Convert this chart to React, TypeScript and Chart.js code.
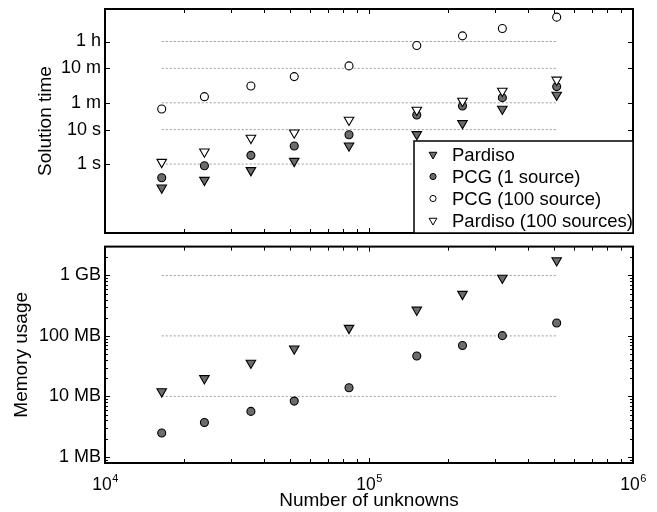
import React, { useEffect, useRef } from 'react';
import { Chart, registerables } from 'chart.js';

Chart.register(...registerables);

const FONT = "'Liberation Sans', Arial, Helvetica, sans-serif";
Chart.defaults.font.family = FONT;
Chart.defaults.color = '#000';

// ---- data ----
const nUnknowns = [16400, 23800, 35700, 52100, 84000, 151700, 226000, 320000, 514000];
const timePardiso = [0.205, 0.343, 0.656, 1.22, 3.4, 7.3, 15.2, 39.7, 101];
const timePCG1 = [0.4, 0.89, 1.79, 3.34, 7.1, 26.6, 48.5, 84.6, 177];
const timePCG100 = [39.7, 90.4, 185, 345, 706, 2750, 5260, 8570, 18370];
const timePardiso100 = [1.14, 2.28, 5.7, 8.1, 19, 37, 68, 132, 277];
const memPardiso = [12.0, 19.8, 35.7, 61.3, 134.5, 269, 491, 908, 1770];
const memPCG = [2.47, 3.69, 5.64, 8.35, 13.9, 46.4, 69.5, 101, 163];

const timeTicks = [1, 10, 60, 600, 3600];
const timeTickLabels = ['1 s', '10 s', '1 m', '10 m', '1 h'];
const timeGridValues = [1, 10, 60, 600, 3600];
const memTicks = [1, 10, 100, 1000];
const memTickLabels = ['1 MB', '10 MB', '100 MB', '1 GB'];
const memGridValues = [10, 100, 1000];
const xTicks = [1e4, 1e5, 1e6];
const xTickExponents = ['4', '5', '6'];
const legendLabels = ['Pardiso', 'PCG (1 source)', 'PCG (100 source)', 'Pardiso (100 sources)'];

const GRAY = 'rgb(108,108,108)';

type Marker = { shape: 'tri' | 'circle'; fill: string };
const legendMarkers: Marker[] = [
  { shape: 'tri', fill: GRAY },
  { shape: 'circle', fill: GRAY },
  { shape: 'circle', fill: '#fff' },
  { shape: 'tri', fill: '#fff' },
];

const pts = (ys: number[]) => nUnknowns.map((x, i) => ({ x, y: ys[i] }));

const markerDs = (label: string, ys: number[], m: Marker, order: number) => ({
  label,
  data: pts(ys),
  showLine: false,
  pointStyle: m.shape === 'tri' ? 'triangle' : 'circle',
  pointRotation: m.shape === 'tri' ? 180 : 0,
  pointRadius: m.shape === 'tri' ? 5.5 : 4,
  pointBackgroundColor: m.fill,
  pointBorderColor: '#000',
  pointBorderWidth: 1.1,
  order,
});

const gridDs = (v: number) => ({
  label: 'grid',
  data: [
    { x: nUnknowns[0], y: v },
    { x: nUnknowns[nUnknowns.length - 1], y: v },
  ],
  showLine: true,
  borderColor: 'rgb(155,155,155)',
  borderWidth: 1,
  borderDash: [2, 2],
  pointRadius: 0,
  order: 10,
});

function drawMarker(ctx: CanvasRenderingContext2D, m: Marker, x: number, y: number, r: number) {
  ctx.beginPath();
  if (m.shape === 'tri') {
    ctx.moveTo(x, y + r);
    ctx.lineTo(x - r * 0.866, y - r / 2);
    ctx.lineTo(x + r * 0.866, y - r / 2);
    ctx.closePath();
  } else {
    ctx.arc(x, y, r, 0, Math.PI * 2);
  }
  ctx.fillStyle = m.fill;
  ctx.fill();
  ctx.lineWidth = 1;
  ctx.strokeStyle = '#000';
  ctx.stroke();
}

function minorLogValues(min: number, max: number) {
  const out: number[] = [];
  for (let e = Math.floor(Math.log10(min)); e <= Math.ceil(Math.log10(max)); e++) {
    for (let k = 2; k <= 9; k++) {
      const v = k * Math.pow(10, e);
      if (v > min && v < max) out.push(v);
    }
  }
  return out;
}

const zeroPad = (s: any) => {
  s.paddingTop = 0;
  s.paddingBottom = 0;
  s.paddingLeft = 0;
  s.paddingRight = 0;
};

const makeAxesPlugin = (cfg: { yMajor: number[]; yMinor: boolean; xLabels: boolean; legend: boolean }) => ({
  id: 'matlabAxes',
  afterDraw(chart: any) {
    const { ctx, chartArea: a, scales } = chart;
    const xs = scales.x;
    const ys = scales.y;
    ctx.save();
    ctx.strokeStyle = '#000';
    ctx.lineWidth = 1;
    ctx.beginPath();
    const seg = (x1: number, y1: number, x2: number, y2: number) => {
      ctx.moveTo(x1, y1);
      ctx.lineTo(x2, y2);
    };
    const MAJ = 5;
    const MIN = 3;
    for (const v of xTicks) {
      const px = Math.round(xs.getPixelForValue(v)) + 0.5;
      seg(px, a.top, px, a.top + MAJ);
      seg(px, a.bottom, px, a.bottom - MAJ);
    }
    for (const v of minorLogValues(xs.min, xs.max)) {
      const px = Math.round(xs.getPixelForValue(v)) + 0.5;
      seg(px, a.top, px, a.top + MIN + 1);
      seg(px, a.bottom, px, a.bottom - MIN - 1);
    }
    for (const v of cfg.yMajor) {
      const py = Math.round(ys.getPixelForValue(v)) + 0.5;
      seg(a.left, py, a.left + MAJ, py);
      seg(a.right, py, a.right - MAJ, py);
    }
    if (cfg.yMinor) {
      for (const v of minorLogValues(ys.min, ys.max)) {
        const py = Math.round(ys.getPixelForValue(v)) + 0.5;
        seg(a.left, py, a.left + MIN, py);
        seg(a.right, py, a.right - MIN, py);
      }
    }
    ctx.stroke();

    ctx.lineWidth = 2;
    ctx.strokeRect(a.left, a.top, a.right - a.left, a.bottom - a.top);

    if (cfg.xLabels) {
      ctx.fillStyle = '#000';
      ctx.textAlign = 'left';
      ctx.textBaseline = 'alphabetic';
      xTicks.forEach((v, i) => {
        const px = xs.getPixelForValue(v);
        ctx.font = `17.5px ${FONT}`;
        const w1 = ctx.measureText('10').width;
        ctx.font = `11px ${FONT}`;
        const w2 = ctx.measureText(xTickExponents[i]).width;
        const x0 = px - (w1 + w2) / 2;
        ctx.font = `17.5px ${FONT}`;
        ctx.fillText('10', x0, a.bottom + 27);
        ctx.font = `11px ${FONT}`;
        ctx.fillText(xTickExponents[i], x0 + w1 + 0.5, a.bottom + 18.5);
      });
    }

    if (cfg.legend) {
      const w = 219;
      const h = 92;
      const lx = a.right - w;
      const ly = a.bottom - h;
      ctx.fillStyle = '#fff';
      ctx.fillRect(lx, ly, w, h);
      ctx.lineWidth = 1.5;
      ctx.strokeStyle = '#000';
      ctx.strokeRect(lx, ly, w, h);
      legendLabels.forEach((label, i) => {
        const cy = ly + 13.5 + i * 22;
        const m = legendMarkers[i];
        drawMarker(ctx, m, lx + 19, cy, m.shape === 'tri' ? 4.5 : 3.1);
        ctx.font = `18.5px ${FONT}`;
        ctx.fillStyle = '#000';
        ctx.textAlign = 'left';
        ctx.textBaseline = 'middle';
        ctx.fillText(label, lx + 38, cy + 1);
      });
    }
    ctx.restore();
  },
});

function TimeChart() {
  const ref = useRef<HTMLCanvasElement>(null);
  useEffect(() => {
    if (!ref.current) return;
    const chart = new Chart(ref.current, {
      type: 'scatter',
      data: {
        datasets: [
          markerDs(legendLabels[0], timePardiso, legendMarkers[0], 3),
          markerDs(legendLabels[1], timePCG1, legendMarkers[1], 2),
          markerDs(legendLabels[2], timePCG100, legendMarkers[2], 1),
          markerDs(legendLabels[3], timePardiso100, legendMarkers[3], 0),
          ...timeGridValues.map(gridDs),
        ] as any,
      },
      options: {
        animation: false,
        responsive: false,
        events: [],
        layout: { padding: { top: 9, right: 24, bottom: 7, left: 0 } },
        plugins: { legend: { display: false }, tooltip: { enabled: false } },
        scales: {
          x: { type: 'logarithmic', min: 1e4, max: 1e6, display: false, afterFit: zeroPad },
          y: {
            type: 'logarithmic',
            min: 0.01,
            max: 31623,
            bounds: 'data',
            afterBuildTicks: (s: any) => {
              s.ticks = timeTicks.map((v) => ({ value: v }));
            },
            afterFit: (s: any) => {
              s.width = 105;
              zeroPad(s);
            },
            grid: { display: false, drawTicks: false },
            border: { display: false },
            ticks: {
              autoSkip: false,
              padding: 4,
              color: '#000',
              font: { size: 18 },
              callback: (v: any) => {
                const i = timeTicks.indexOf(Number(v));
                return i >= 0 ? timeTickLabels[i] : '';
              },
            },
            title: {
              display: true,
              text: 'Solution time',
              color: '#000',
              font: { size: 19 },
              padding: { top: 34, bottom: 0 },
            },
          },
        } as any,
      },
      plugins: [makeAxesPlugin({ yMajor: timeTicks, yMinor: false, xLabels: false, legend: true })],
    });
    return () => chart.destroy();
  }, []);
  return <canvas ref={ref} width={657} height={240} style={{ display: 'block', position: 'absolute', left: 0, top: 0 }} />;
}

function MemChart() {
  const ref = useRef<HTMLCanvasElement>(null);
  useEffect(() => {
    if (!ref.current) return;
    const chart = new Chart(ref.current, {
      type: 'scatter',
      data: {
        datasets: [
          markerDs(legendLabels[0], memPardiso, legendMarkers[0], 1),
          markerDs(legendLabels[1], memPCG, legendMarkers[1], 0),
          ...memGridValues.map(gridDs),
        ] as any,
      },
      options: {
        animation: false,
        responsive: false,
        events: [],
        layout: { padding: { top: 4, right: 24, bottom: 0, left: 0 } },
        plugins: { legend: { display: false }, tooltip: { enabled: false } },
        scales: {
          x: {
            type: 'logarithmic',
            min: 1e4,
            max: 1e6,
            position: 'bottom',
            afterFit: (s: any) => {
              s.height = 49;
              zeroPad(s);
            },
            grid: { display: false, drawTicks: false },
            border: { display: false },
            ticks: { display: false },
            title: {
              display: true,
              text: 'Number of unknowns',
              color: '#000',
              font: { size: 19 },
              padding: 0,
            },
          },
          y: {
            type: 'logarithmic',
            min: 0.79,
            max: 3000,
            bounds: 'data',
            afterBuildTicks: (s: any) => {
              s.ticks = memTicks.map((v) => ({ value: v }));
            },
            afterFit: (s: any) => {
              s.width = 105;
              zeroPad(s);
            },
            grid: { display: false, drawTicks: false },
            border: { display: false },
            ticks: {
              autoSkip: false,
              padding: 4,
              color: '#000',
              font: { size: 18 },
              callback: (v: any) => {
                const i = memTicks.indexOf(Number(v));
                return i >= 0 ? memTickLabels[i] : '';
              },
            },
            title: {
              display: true,
              text: 'Memory usage',
              color: '#000',
              font: { size: 19 },
              padding: { top: 10.6, bottom: 0 },
            },
          },
        } as any,
      },
      plugins: [makeAxesPlugin({ yMajor: memTicks, yMinor: true, xLabels: true, legend: false })],
    });
    return () => chart.destroy();
  }, []);
  return <canvas ref={ref} width={657} height={272} style={{ display: 'block', position: 'absolute', left: 0, top: 240 }} />;
}

export default function App() {
  return (
    <div style={{ position: 'absolute', left: 0, top: 0, width: 657, height: 512, background: '#fff' }}>
      <TimeChart />
      <MemChart />
    </div>
  );
}
